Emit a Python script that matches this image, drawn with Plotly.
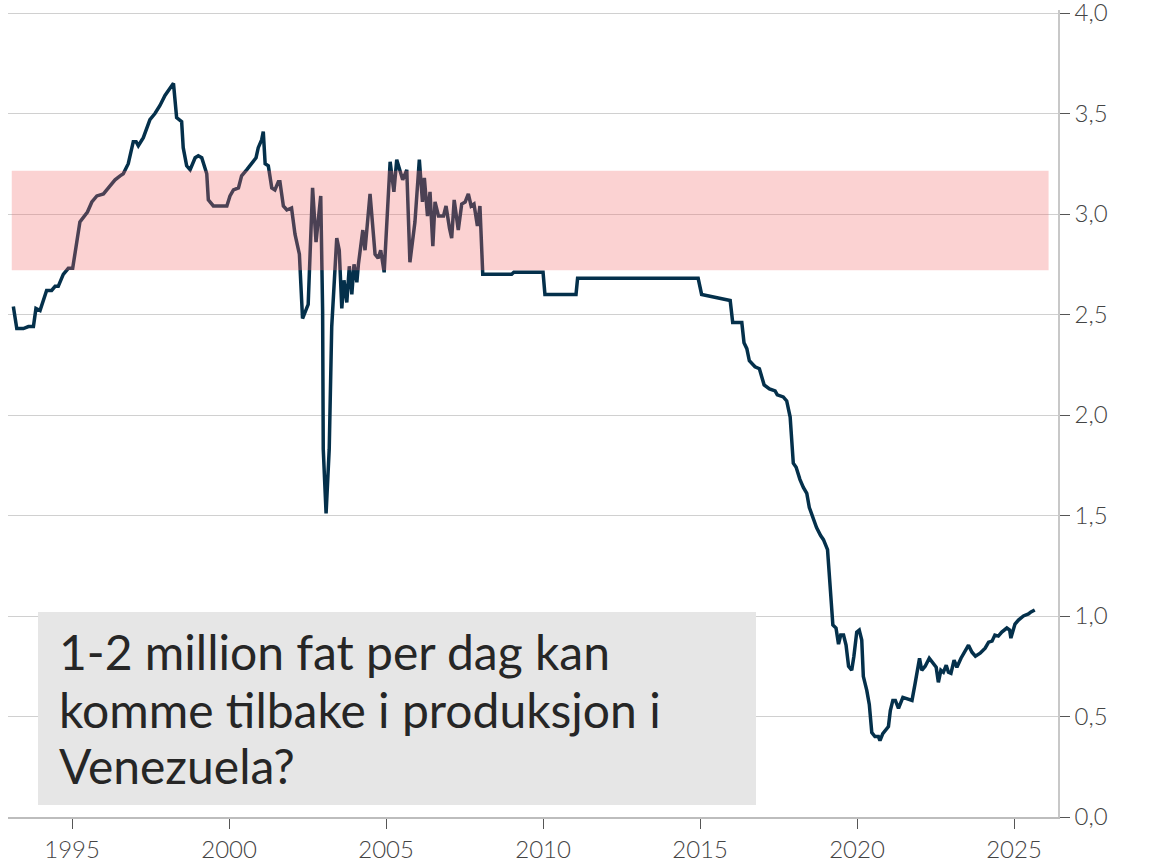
import plotly.graph_objects as go

# Venezuela oil production (million barrels per day), decimal year
years = [
    1993.13, 1993.24, 1993.45, 1993.61, 1993.77, 1993.85, 1993.98, 1994.19, 1994.35, 1994.46,
    1994.56, 1994.72, 1994.88, 1995.02, 1995.10, 1995.25, 1995.49, 1995.63, 1995.79, 1996.00,
    1996.21, 1996.37, 1996.53, 1996.63, 1996.79, 1996.95, 1997.04, 1997.11, 1997.27, 1997.48,
    1997.64, 1997.80, 1997.96, 1998.12, 1998.23, 1998.33, 1998.49, 1998.54, 1998.65, 1998.76,
    1998.92, 1999.02, 1999.13, 1999.29, 1999.34, 1999.50, 1999.66, 1999.93, 2000.03, 2000.14,
    2000.30, 2000.40, 2000.56, 2000.72, 2000.86, 2000.93, 2001.04, 2001.09, 2001.15, 2001.25,
    2001.36, 2001.46, 2001.57, 2001.62, 2001.73, 2001.84, 2001.99, 2002.10, 2002.24, 2002.34,
    2002.47, 2002.52, 2002.66, 2002.77, 2002.92, 2002.98, 2003.00, 2003.09, 2003.19, 2003.27,
    2003.43, 2003.51, 2003.59, 2003.66, 2003.75, 2003.83, 2003.91, 2003.98, 2004.07, 2004.12,
    2004.26, 2004.33, 2004.49, 2004.65, 2004.75, 2004.83, 2004.94, 2005.13, 2005.25, 2005.34,
    2005.53, 2005.66, 2005.76, 2005.92, 2006.06, 2006.16, 2006.22, 2006.32, 2006.40, 2006.49,
    2006.56, 2006.67, 2006.83, 2006.91, 2007.02, 2007.09, 2007.17, 2007.30, 2007.41, 2007.52,
    2007.62, 2007.71, 2007.80, 2007.91, 2007.99, 2008.08, 2009.00, 2009.07, 2010.00, 2010.06,
    2011.05, 2011.10, 2014.94, 2015.05, 2015.96, 2016.04, 2016.33, 2016.40, 2016.49, 2016.57,
    2016.75, 2016.89, 2017.04, 2017.21, 2017.39, 2017.46, 2017.65, 2017.76, 2017.87, 2017.97,
    2018.06, 2018.18, 2018.29, 2018.40, 2018.48, 2018.61, 2018.71, 2018.84, 2018.93, 2019.06,
    2019.14, 2019.23, 2019.33, 2019.41, 2019.48, 2019.57, 2019.65, 2019.73, 2019.83, 2019.90,
    2019.99, 2020.07, 2020.15, 2020.20, 2020.31, 2020.39, 2020.47, 2020.57, 2020.68, 2020.73,
    2020.82, 2020.89, 2021.00, 2021.06, 2021.14, 2021.22, 2021.32, 2021.46, 2021.59, 2021.75,
    2021.85, 2021.99, 2022.06, 2022.17, 2022.30, 2022.43, 2022.52, 2022.59, 2022.67, 2022.75,
    2022.84, 2022.91, 2022.99, 2023.09, 2023.18, 2023.31, 2023.41, 2023.55, 2023.66, 2023.77,
    2023.92, 2024.08, 2024.19, 2024.30, 2024.39, 2024.50, 2024.61, 2024.77, 2024.86, 2024.90,
    2025.03, 2025.14, 2025.30, 2025.46, 2025.54, 2025.66,
]
production = [
    2.54, 2.43, 2.43, 2.44, 2.44, 2.53, 2.52, 2.62, 2.62, 2.64,
    2.64, 2.70, 2.73, 2.73, 2.81, 2.96, 3.01, 3.06, 3.09, 3.10,
    3.14, 3.17, 3.19, 3.20, 3.25, 3.36, 3.36, 3.34, 3.38, 3.47,
    3.50, 3.54, 3.59, 3.63, 3.65, 3.48, 3.46, 3.33, 3.24, 3.22,
    3.28, 3.29, 3.28, 3.20, 3.07, 3.04, 3.04, 3.04, 3.09, 3.12,
    3.13, 3.19, 3.22, 3.25, 3.28, 3.33, 3.37, 3.41, 3.25, 3.24,
    3.13, 3.12, 3.16, 3.16, 3.04, 3.02, 3.03, 2.90, 2.80, 2.48,
    2.54, 2.55, 3.13, 2.86, 3.09, 2.52, 1.83, 1.51, 1.83, 2.44,
    2.88, 2.82, 2.53, 2.67, 2.56, 2.74, 2.60, 2.75, 2.66, 2.75,
    2.92, 2.82, 3.10, 2.80, 2.78, 2.82, 2.71, 3.26, 3.11, 3.27,
    3.17, 3.22, 2.76, 2.96, 3.27, 3.06, 3.18, 2.99, 3.11, 2.84,
    3.06, 2.99, 2.99, 3.04, 2.93, 2.88, 3.07, 2.92, 3.05, 3.06,
    3.10, 3.04, 3.05, 2.94, 3.04, 2.70, 2.70, 2.71, 2.71, 2.60,
    2.60, 2.68, 2.68, 2.60, 2.57, 2.46, 2.46, 2.36, 2.33, 2.27,
    2.24, 2.23, 2.15, 2.13, 2.12, 2.10, 2.09, 2.07, 1.99, 1.76,
    1.74, 1.68, 1.64, 1.61, 1.54, 1.48, 1.44, 1.40, 1.38, 1.33,
    1.15, 0.955, 0.94, 0.86, 0.905, 0.905, 0.855, 0.75, 0.73, 0.80,
    0.92, 0.93, 0.88, 0.70, 0.63, 0.56, 0.42, 0.40, 0.40, 0.38,
    0.415, 0.43, 0.45, 0.53, 0.58, 0.58, 0.54, 0.595, 0.59, 0.58,
    0.665, 0.79, 0.73, 0.75, 0.79, 0.765, 0.745, 0.67, 0.73, 0.72,
    0.755, 0.72, 0.715, 0.78, 0.745, 0.79, 0.82, 0.855, 0.82, 0.80,
    0.815, 0.84, 0.87, 0.875, 0.905, 0.90, 0.92, 0.94, 0.93, 0.89,
    0.96, 0.98, 1.00, 1.01, 1.02, 1.03,
]

x_ticks = [1995, 2000, 2005, 2010, 2015, 2020, 2025]
x_tick_labels = ["1995", "2000", "2005", "2010", "2015", "2020", "2025"]
y_ticks = [0, 0.5, 1.0, 1.5, 2.0, 2.5, 3.0, 3.5, 4.0]
y_tick_labels = ["0,0", "0,5", "1,0", "1,5", "2,0", "2,5", "3,0", "3,5", "4,0"]

band_x = [1993.08, 2026.1]
band_y = [2.72, 3.215]

note_lines = ["1-2 million fat per dag kan", "komme tilbake i produksjon i", "Venezuela?"]

fig = go.Figure()
fig.add_trace(go.Scatter(
    x=years, y=production, mode="lines",
    line=dict(color="#04304b", width=3.5),
    hoverinfo="skip", showlegend=False,
))

fig.add_shape(type="rect", xref="x", yref="y",
              x0=band_x[0], x1=band_x[1], y0=band_y[0], y1=band_y[1],
              fillcolor="rgba(241,106,106,0.3)", line=dict(width=0), layer="above")

# note box (plot height 807 px, bottom at 817 px)
fig.add_shape(type="rect", xref="paper", yref="paper",
              x0=0.0286, x1=0.7124, y0=0.0149, y1=0.254,
              fillcolor="#e6e6e6", line=dict(width=0), layer="above")

for i, (txt, yp) in enumerate(zip(note_lines, [0.2045, 0.1338, 0.0632])):
    fig.add_annotation(xref="paper", yref="paper", x=0.0467, y=yp,
                       xanchor="left", yanchor="middle", showarrow=False,
                       text=txt, font=dict(family="Lato", size=48, color="#262626"))

tick_font = dict(family="Lato", size=24, color="#444444", weight=300)

fig.update_layout(
    width=1174, height=867,
    margin=dict(l=8, r=116, t=10, b=50, autoexpand=False),
    paper_bgcolor="white", plot_bgcolor="white",
    showlegend=False,
    xaxis=dict(
        range=[1992.96, 2026.4], tickvals=x_ticks, ticktext=x_tick_labels,
        showgrid=False, zeroline=False, automargin=False,
        showline=True, linecolor="#bdbdbd", linewidth=1.5,
        ticks="outside", ticklen=10, tickcolor="#555555", tickwidth=1,
        tickfont=tick_font,
    ),
    yaxis=dict(
        range=[0, 4.015], tickvals=y_ticks, ticktext=y_tick_labels, side="right",
        showgrid=True, gridcolor="#d0d0d0", gridwidth=1, zeroline=False,
        automargin=False,
        showline=True, linecolor="#c8c8c8", linewidth=1.5,
        ticks="outside", ticklen=10, tickcolor="#555555", tickwidth=1,
        tickfont=tick_font, ticklabeloverflow="allow",
    ),
)

fig.write_html("out.html", config={"displayModeBar": False},
               post_script="document.body.style.margin='0';")
